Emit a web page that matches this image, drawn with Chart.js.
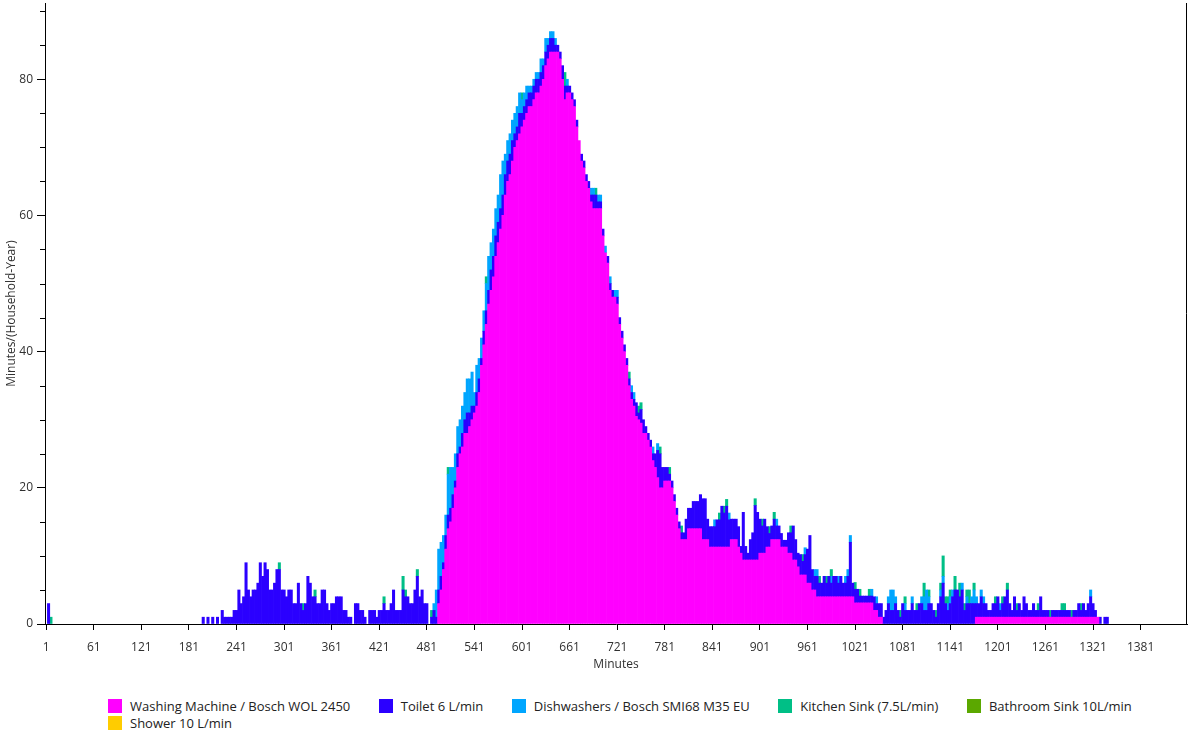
<!DOCTYPE html>
<html>
<head>
<meta charset="utf-8">
<script src="https://cdn.jsdelivr.net/npm/chart.js@4.4.0/dist/chart.umd.min.js"></script>
<style>
  html, body { margin: 0; padding: 0; background: #fff; }
  #wrap { position: relative; width: 1188px; height: 735px; }
  #chart { position: absolute; left: 0; top: 0; }
  #legend {
    position: absolute; left: 108px; top: 699px; width: 1060px;
    display: flex; flex-wrap: wrap; column-gap: 28.5px; row-gap: 3px;
    font: 13px 'Open Sans', sans-serif; color: #222;
  }
  .item { display: flex; align-items: center; height: 14px; white-space: nowrap; }
  .box { width: 14px; height: 14px; margin-right: 8px; }
</style>
</head>
<body>
<div id="wrap">
  <canvas id="chart" width="1188" height="676"></canvas>
  <div id="legend"></div>
</div>
<script>
// each bar = 3 minutes of the day, 480 bars
const BIN_MINUTES = 3;
const minutes = Array.from({length: 480}, (_, i) => 1 + i * BIN_MINUTES);

const tickLabels = ['1', '61', '121', '181', '241', '301', '361', '421', '481', '541', '601', '661', '721',
  '781', '841', '901', '961', '1021', '1081', '1141', '1201', '1261', '1321', '1381'];
const yTicks = [0, 20, 40, 60, 80];
const yMinorTicks = [5, 10, 15, 25, 30, 35, 45, 50, 55, 65, 70, 75, 85, 90];

const seriesNames = ['Washing Machine / Bosch WOL 2450', 'Toilet 6 L/min', 'Dishwashers / Bosch SMI68 M35 EU',
  'Kitchen Sink (7.5L/min)', 'Bathroom Sink 10L/min', 'Shower 10 L/min'];
const seriesColors = ['#ff00ff', '#2b00ff', '#00a6ff', '#00bf86', '#5ba800', '#ffcc00'];

// washing machine, starting at minute 496
const washingFrom = 496;
const washing = [
  3, 5, 8, 11, 14, 15, 17, 20, 23, 25,
  26, 28, 28, 29, 30, 31, 32, 34, 38, 41,
  44, 47, 49, 51, 54, 56, 58, 60, 63, 65,
  66, 68, 70, 71, 72, 73, 74, 75, 76, 76,
  77, 78, 78, 79, 80, 82, 83, 84, 84, 84,
  84, 83, 80, 77, 78, 78, 77, 76, 73, 71,
  68, 67, 65, 64, 62, 61, 61, 61, 61, 57,
  54.5, 53, 49, 48, 48, 47, 44, 42, 40, 38,
  35, 33, 32, 30.5, 30, 29.5, 28, 28, 27, 26,
  24, 23, 21.5, 20, 20, 21, 21, 21, 20, 18,
  16, 14, 12.4, 12.4, 12.4, 14, 14, 14, 14, 14,
  14, 12.4, 12.4, 12.4, 11.3, 11.3, 11.3, 11.3, 11.3, 11.3,
  11.3, 11.3, 11.3, 12.4, 12.4, 12.4, 11.3, 10.4, 9.4, 9.4,
  9.4, 9.4, 9.4, 9.4, 9.4, 10.4, 10.4, 10.4, 11.3, 11.3,
  12.4, 12.4, 12.4, 12.4, 11.3, 11.3, 11.3, 10.4, 10.4, 9.4,
  9.4, 8.4, 7.2, 7.2, 7.2, 6, 6, 5, 5, 4,
  4, 4, 4, 4, 4, 4, 4, 4, 4, 4,
  4, 4, 4, 4, 4, 3.1, 3.1, 3.1, 3.1, 3.1,
  3.1, 3.1, 3.1, 2, 2, 1, 1, 0, 0, 0,
  0, 0, 0, 0, 0, 0, 0, 0, 0, 0,
  0, 0, 0, 0, 0, 0, 0, 0, 0, 0,
  0, 0, 0, 0, 0, 0, 0, 0, 0, 0,
  0, 0, 0, 0, 0, 0, 1, 1, 1, 1,
  1, 1, 1, 1, 1, 1, 1, 1, 1, 1,
  1, 1, 1, 1, 1, 1, 1, 1, 1, 1,
  1, 1, 1, 1, 1, 1, 1, 1, 1, 1,
  1, 1, 1, 1, 1, 1, 1, 1, 1, 1,
  1, 1, 1, 1, 1, 1, 1, 1
];

// toilet, starting at minute 1
const toiletFrom = 1;
const toilet = [
  0, 3,
  0, 0, 0, 0, 0, 0, 0, 0, 0, 0, 0, 0, 0, 0, 0, 0,
  0, 0, 0, 0, 0, 0, 0, 0, 0, 0, 0, 0, 0, 0, 0, 0,
  0, 0, 0, 0, 0, 0, 0, 0, 0, 0, 0, 0, 0, 0, 0, 0,
  0, 0, 0, 0, 0, 0, 0, 0, 0, 0, 0, 0, 0, 0, 0, 0,
  1, 0, 1, 0, 1, 0, 1, 0, 2, 1,
  1, 1, 1, 2, 2, 5, 3, 4, 9, 5,
  4, 5, 5, 6, 9, 7, 9, 8, 5, 5,
  6, 8, 8, 5, 5, 4, 5, 5, 3, 3,
  6, 3, 2, 3, 7, 6, 4, 4, 3, 3,
  5, 5, 3, 2, 3, 3, 4, 4, 4, 2,
  2, 1, 1, 0, 3, 3, 2, 2, 1, 0,
  2, 2, 2, 1, 2, 2, 3, 2, 2, 3,
  5, 2, 2, 2, 5, 4, 4, 3, 3, 5,
  7, 4, 5, 3, 3, 0, 1, 2, 1,
  2, 2, 1, 2, 2, 2, 2, 1, 2, 1,
  2, 2, 3, 2, 2, 1, 2, 2, 1, 2,
  2, 2, 3, 3, 3, 3, 3, 3, 3, 3,
  3, 3, 2, 2, 3, 2, 2, 2, 2, 2,
  2, 2, 2, 2, 2, 2, 2, 2, 2, 1,
  1, 1, 2, 2, 1, 1, 1, 1, 1, 0,
  1, 1, 1, 1, 1, 2, 2, 1, 1, 1,
  0, 1, 1, 1, 0, 1, 1, 1, 1, 1,
  1, 1, 1, 2, 1, 2, 2, 1, 1, 1,
  1, 2, 4, 5, 3, 2, 2, 1, 1, 1,
  1, 1, 1, 1, 3, 3, 3, 4, 4, 4,
  5, 6, 6, 3, 3, 3, 3, 4, 4, 6,
  5, 6, 4, 3, 3, 3, 3, 1, 7, 2,
  1, 3, 4, 8, 7, 5, 4, 5, 3, 2,
  2, 3, 2, 2, 2, 1, 1, 3, 3, 5,
  3, 2, 3, 2, 3, 5, 7, 3, 2, 3,
  2, 2, 3, 2, 3, 2, 3, 3, 2, 3,
  2, 2, 3, 8, 2, 2, 2, 1, 1, 1,
  1, 1, 1, 2, 1, 2, 2, 1, 2, 3,
  2, 2, 3, 2, 1, 3, 2, 2, 2, 3,
  2, 2, 3, 3, 2, 2, 3, 3, 2, 1,
  3, 4, 6, 3, 2, 3, 4, 5, 5, 4,
  5, 2, 3, 3, 3, 3, 2, 2, 3, 2,
  2, 1, 1, 2, 2, 3, 1, 2, 3, 4,
  2, 1, 3, 1, 2, 1, 3, 2, 1, 1,
  2, 1, 1, 3, 1, 1, 1, 0, 1, 1,
  1, 1, 1, 1, 1, 1, 0, 1, 1, 2,
  1, 2, 1, 2, 3, 2, 1, 0, 1, 0,
  1, 1
];

// dishwashers, starting at minute 490
const dishFrom = 490;
const dishwashers = [
  1, 4,
  6, 5, 4, 3, 6, 6, 4, 4, 4, 4,
  4, 4, 5, 5, 5, 2, 4, 3, 3, 3,
  4, 5, 4, 4, 4, 4, 5, 5, 3, 3,
  3, 3, 3, 3, 3, 2, 2, 2, 1, 1,
  1, 1, 1, 2, 1, 2, 1, 1, 1, 1,
  0, 0, 0, 0, 1, 0, 0, 0, 0, 0,
  0, 0, 0, 0, 1, 1, 0, 1, 1, 0,
  1, 0, 1, 0, 1, 1, 0, 0, 0, 0,
  0, 1, 1, 0, 0, 0, 0, 0, 0, 0,
  1, 0, 1, 0, 0, 0, 0, 0, 0, 0,
  0, 0, 0, 0, 0, 0, 0, 0, 0, 0,
  0, 0, 0, 0, 0, 0, 1, 0, 0, 0,
  0, 0, 1, 0, 0, 0, 0, 0, 0, 0,
  0, 0, 0, 0, 0, 0, 0, 0, 0, 0,
  0, 0, 1, 0, 0, 0, 0, 0, 0, 0,
  0, 0, 0, 0, 1, 0, 0, 0, 1, 1,
  0, 0, 0, 0, 0, 1, 0, 0, 1, 0,
  0, 1, 1, 1, 0, 0, 0, 0, 0, 0,
  0, 0, 1, 0, 1, 0, 0, 0, 0, 1,
  3, 3, 1, 0, 0, 0, 1, 0, 0, 1,
  0, 0, 0, 1, 2, 3, 1, 0, 0, 0,
  0, 1, 1, 0, 1, 1, 1, 0, 0, 0,
  1, 0, 1, 0, 1, 2, 1, 0, 1, 1,
  0, 0, 0, 0, 0, 0, 1, 0, 0, 0,
  0, 0, 0, 0, 0, 0, 0, 0, 0, 0,
  0, 0, 0, 0, 0, 0, 0, 0, 0, 0,
  0, 0, 0, 0, 0, 0, 0, 0, 0, 0,
  0, 0, 0, 0, 1
];

// kitchen sink, scattered bars
const kitchenMinutes = [7, 295, 325, 340, 427, 451, 454, 469, 487, 508, 556, 601, 655, 694, 736, 748, 751, 775,
  787, 802, 850, 856, 859, 895, 904, 913, 919, 940, 955, 976, 985, 991, 1021, 1027, 1039, 1078, 1084, 1099,
  1108, 1114, 1123, 1129, 1132, 1135, 1138, 1141, 1147, 1153, 1159, 1162, 1165, 1171, 1198, 1207, 1213,
  1225, 1252, 1267, 1282, 1285, 1294, 1306];
const kitchenValues = [1, 1, 1, 1, 1, 2, 1, 1, 1, 1, 1, 1, 2, 1, 1, 1, 1, 1,
  1, 1, 1, 1, 1, 1, 1, 1, 1, 1, 1, 1, 1, 1, 1, 1, 1, 1, 1, 1,
  2, 1, 1, 1, 3, 1, 1, 1, 2, 2, 1, 1, 2, 1, 1, 1, 1,
  1, 1, 1, 1, 1, 1, 1];

const bathroomMinutes = [];
const bathroomValues = [];
const showerMinutes = [];
const showerValues = [];

const binOf = (minute) => Math.floor((minute - 1) / BIN_MINUTES);

const fromRun = (from, values) => {
  const data = minutes.map(() => null);
  values.forEach((v, k) => { if (v) data[binOf(from) + k] = v; });
  return data;
};

const fromPairs = (mins, values) => {
  const data = minutes.map(() => null);
  mins.forEach((m, k) => { if (values[k]) data[binOf(m)] = values[k]; });
  return data;
};

const seriesData = [
  fromRun(washingFrom, washing),
  fromRun(toiletFrom, toilet),
  fromRun(dishFrom, dishwashers),
  fromPairs(kitchenMinutes, kitchenValues),
  fromPairs(bathroomMinutes, bathroomValues),
  fromPairs(showerMinutes, showerValues)
];

const FONT = {family: "'Open Sans', sans-serif", size: 12};
const TEXT = '#303030';

const axisExtras = {
  id: 'axisExtras',
  afterDraw(chart) {
    const {ctx, chartArea, scales: {y}} = chart;
    ctx.save();
    ctx.strokeStyle = '#000';
    ctx.lineWidth = 1;
    ctx.beginPath();
    yMinorTicks.forEach(v => {
      const py = Math.round(y.getPixelForValue(v)) + 0.5;
      ctx.moveTo(chartArea.left - 5, py);
      ctx.lineTo(chartArea.left, py);
    });
    const rx = Math.round(chartArea.right) - 0.5;
    ctx.moveTo(rx, chartArea.top);
    ctx.lineTo(rx, chartArea.bottom);
    ctx.stroke();
    ctx.restore();
  }
};

const chart = new Chart(document.getElementById('chart'), {
  type: 'bar',
  data: {
    labels: minutes.map(String),
    datasets: seriesNames.map((name, i) => ({
      label: name,
      data: seriesData[i],
      backgroundColor: seriesColors[i],
      borderWidth: 0,
      barPercentage: 1,
      categoryPercentage: 1
    }))
  },
  options: {
    responsive: false,
    animation: false,
    layout: {padding: {top: 3, right: 1, left: 0, bottom: 0}},
    plugins: {legend: {display: false}, tooltip: {enabled: false}},
    scales: {
      x: {
        stacked: true,
        z: 1,
        afterBuildTicks: s => { s.ticks = s.ticks.filter(t => tickLabels.includes(String(minutes[t.value]))); },
        afterFit: s => { s.height = 52; s.paddingLeft = 0; s.paddingRight = 0; },
        grid: {display: true, drawOnChartArea: false, offset: false, tickLength: 6, color: '#000'},
        border: {display: true, color: '#000', width: 1},
        ticks: {autoSkip: false, maxRotation: 0, minRotation: 0, padding: 10, color: TEXT, font: FONT},
        title: {display: true, text: 'Minutes', color: TEXT, font: FONT, padding: {top: 2, bottom: 4}}
      },
      y: {
        stacked: true,
        z: 1,
        min: 0,
        max: 91.2,
        afterBuildTicks: s => { s.ticks = yTicks.map(v => ({value: v})); },
        afterFit: s => { s.width = 45; s.paddingTop = 0; s.paddingBottom = 0; },
        grid: {display: true, drawOnChartArea: false, tickLength: 8, color: '#000'},
        border: {display: true, color: '#000', width: 1},
        ticks: {padding: 4, color: TEXT, font: FONT},
        title: {display: true, text: 'Minutes/(Household-Year)', color: TEXT, font: FONT, padding: {top: 4, bottom: 4}}
      }
    }
  },
  plugins: [axisExtras]
});

// legend below the plot
const legend = document.getElementById('legend');
chart.data.datasets.forEach(ds => {
  const item = document.createElement('div');
  item.className = 'item';
  const box = document.createElement('span');
  box.className = 'box';
  box.style.background = ds.backgroundColor;
  const label = document.createElement('span');
  label.textContent = ds.label;
  item.appendChild(box);
  item.appendChild(label);
  legend.appendChild(item);
});
</script>
</body>
</html>
